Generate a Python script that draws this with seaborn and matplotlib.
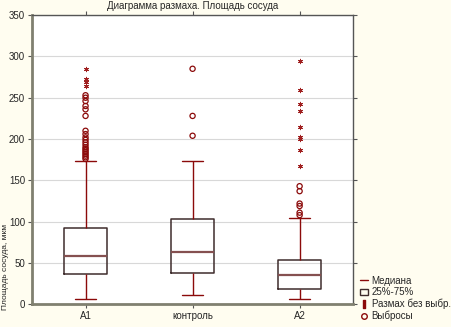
import matplotlib
matplotlib.use("Agg")
import matplotlib.pyplot as plt
import seaborn as sns
import pandas as pd
from matplotlib.lines import Line2D
from matplotlib.patches import Patch

# summary values
groups = ["A1", "контроль", "A2"]
whisker_low = [6, 11, 6]
q1 = [37, 38, 19]
median = [59, 64, 35]
q3 = [93, 103, 54]
whisker_high = [174, 174, 105]

# outliers (circles) and extremes (stars)
outliers = {
    "A1": [176, 178, 180, 182, 184, 186, 188, 190, 193, 196, 199, 202, 206, 210,
           228, 236, 240, 246, 250, 253],
    "контроль": [204, 228, 285],
    "A2": [108, 111, 119, 122, 137, 143],
}
extremes = {
    "A1": [264, 269, 273, 285],
    "контроль": [],
    "A2": [168, 187, 200, 202, 215, 234, 243, 259, 295],
}

# five points per group -> quartiles land exactly on the listed values
rows = []
for g, lo, a, m, b, hi in zip(groups, whisker_low, q1, median, q3, whisker_high):
    for v in (lo, a, m, b, hi):
        rows.append({"group": g, "value": v})
df = pd.DataFrame(rows)

sns.set_theme(style="white")
plt.rcParams["font.family"] = ["Liberation Sans", "DejaVu Sans"]

dark_red = "#8b0a0a"
box_edge = "#3e2c2c"
med_col = "#855050"

fig = plt.figure(figsize=(4.51, 3.27), dpi=100, facecolor="#fffdf0")
ax = fig.add_axes([0.071, 0.069, 0.712, 0.885])
ax.set_facecolor("white")

sns.boxplot(data=df, x="group", y="value", order=groups, whis=(0, 100),
            showfliers=False, width=0.4, fill=False, linewidth=1.1,
            color=box_edge, ax=ax,
            boxprops=dict(color=box_edge, linewidth=1.1),
            medianprops=dict(color=med_col, linewidth=1.6),
            whiskerprops=dict(color=dark_red, linewidth=1.0),
            capprops=dict(color=dark_red, linewidth=1.0),
            capwidths=0.19)

for i, g in enumerate(groups):
    ys = outliers[g]
    ax.scatter([i] * len(ys), ys, s=14, facecolors="none", edgecolors=dark_red,
               linewidths=0.9, zorder=5)
    ys = extremes[g]
    ax.scatter([i] * len(ys), ys, s=10, marker=(6, 2, 0), color="#a02020",
               linewidths=0.7, zorder=5)

ax.set_xlim(-0.5, 2.5)
ax.set_ylim(0, 350)
ax.set_yticks(range(0, 351, 50))
ax.yaxis.grid(True, color="#d8d8d8", linewidth=0.8)
ax.set_axisbelow(True)
ax.set_xlabel("")
ax.set_ylabel("")
fig.text(0.012, 0.183, "Площадь сосуда, мкм", rotation=90, fontsize=6,
         ha="center", va="center", color="#222222")
ax.set_title("Диаграмма размаха. Площадь сосуда", fontsize=7, pad=4)
ax.tick_params(axis="both", labelsize=7, length=3, width=0.8, color="#555555",
               pad=2, direction="out", left=True, bottom=True)
ax.tick_params(axis="both", which="both", right=True, top=True)
for s in ax.spines.values():
    s.set_color("#555555")
    s.set_linewidth(1.0)
ax.spines["bottom"].set_color("#808070")
ax.spines["bottom"].set_linewidth(2.0)
ax.spines["left"].set_color("#808070")
ax.spines["left"].set_linewidth(2.0)

handles = [
    Line2D([], [], color=dark_red, linewidth=1.0),
    Patch(facecolor="none", edgecolor=box_edge, linewidth=1.0),
    Line2D([], [], color=dark_red, linestyle="none", marker=r"$\mathrm{I}$",
           markersize=6),
    Line2D([], [], color=dark_red, linestyle="none", marker="o", markersize=4,
           markerfacecolor="none"),
]
labels = ["Медиана", "25%-75%", "Размах без выбр.", "Выбросы"]
fig.legend(handles, labels, loc="lower left", bbox_to_anchor=(0.785, 0.0),
           frameon=False, fontsize=7, handlelength=0.8, handletextpad=0.4,
           labelspacing=0.15, borderaxespad=0.2)

fig.savefig("out.png", dpi=100, facecolor=fig.get_facecolor())
